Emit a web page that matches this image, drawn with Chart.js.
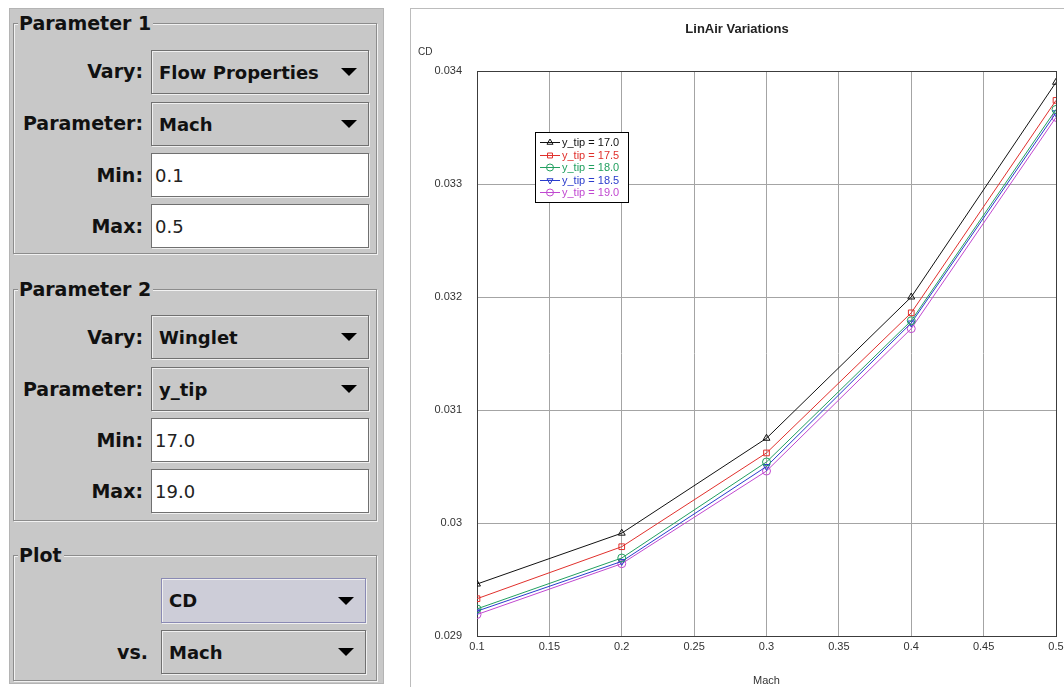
<!DOCTYPE html>
<html>
<head>
<meta charset="utf-8">
<title>LinAir Variations</title>
<script src="https://cdn.jsdelivr.net/npm/chart.js@4.4.0/dist/chart.umd.min.js"></script>
<style>
    body {
        margin: 0;
        width: 1064px;
        height: 687px;
        overflow: hidden;
        position: relative;
        background: #fff;
        font-family: "DejaVu Sans", sans-serif;
        color: #111;
    }
    .panel {
        position: absolute;
        left: 9px; top: 8px; width: 375px; height: 676px;
        background: #c8c8c8;
        border: 1px solid #b4b4b4;
        box-sizing: border-box;
    }
    .group {
        position: absolute;
        border: 1px solid #8c8c8c;
        box-shadow: inset 1px 1px 0 #f2f2f2, 1px 1px 0 #f2f2f2;
        box-sizing: border-box;
    }
    .gtitle {
        position: absolute;
        background: #c8c8c8;
        padding: 0 2px 0 1px;
        font-weight: bold;
        font-size: 19px;
        line-height: 22px;
        white-space: nowrap;
    }
    .lbl {
        position: absolute;
        font-weight: bold;
        font-size: 19px;
        line-height: 22px;
        text-align: right;
        white-space: nowrap;
    }
    .combo {
        position: absolute;
        background: #c8c8c8;
        border: 1px solid #707070;
        box-shadow: inset 1px 1px 0 #f0f0f0, 1px 1px 0 #f0f0f0;
        box-sizing: border-box;
        font-weight: bold;
        font-size: 18px;
        padding-left: 7px;
        display: flex;
        align-items: center;
        white-space: nowrap;
    }
    .combo::after {
        content: "";
        position: absolute;
        right: 11px; top: 50%;
        margin-top: -4px;
        border-left: 8px solid transparent;
        border-right: 8px solid transparent;
        border-top: 8px solid #000;
    }
    .combo.focus {
        background: #cdcdd8;
        border-color: #8a8ab4;
    }
    .field {
        position: absolute;
        background: #fff;
        border: 1px solid #707070;
        box-shadow: 1px 1px 0 #f0f0f0;
        box-sizing: border-box;
        font-size: 18px;
        padding-left: 3px;
        display: flex;
        align-items: center;
        color: #222;
    }
    #chartFrame {
        position: absolute;
        left: 410px; top: 8px; width: 700px; height: 700px;
        border: 1px solid #bcbcbc;
        box-sizing: border-box;
    }
    #chartBox {
        position: absolute;
        left: 411px; top: 9px; width: 653px; height: 684px;
    }
</style>
</head>
<body>

<div class="panel"></div>

<!-- Parameter 1 -->
<div class="group" style="left:13px; top:23px; width:364px; height:231px;"></div>
<div class="gtitle" style="left:18px; top:12px;">Parameter 1</div>
<div class="lbl" style="right:921px; top:60px;">Vary:</div>
<div class="combo" style="left:151px; top:50px; width:218px; height:44px;">Flow Properties</div>
<div class="lbl" style="right:921px; top:112px;">Parameter:</div>
<div class="combo" style="left:151px; top:102px; width:218px; height:44px;">Mach</div>
<div class="lbl" style="right:921px; top:164px;">Min:</div>
<div class="field" style="left:151px; top:153px; width:218px; height:44px;">0.1</div>
<div class="lbl" style="right:921px; top:215px;">Max:</div>
<div class="field" style="left:151px; top:204px; width:218px; height:44px;">0.5</div>

<!-- Parameter 2 -->
<div class="group" style="left:13px; top:289px; width:364px; height:232px;"></div>
<div class="gtitle" style="left:18px; top:278px;">Parameter 2</div>
<div class="lbl" style="right:921px; top:326px;">Vary:</div>
<div class="combo" style="left:151px; top:315px; width:218px; height:44px;">Winglet</div>
<div class="lbl" style="right:921px; top:378px;">Parameter:</div>
<div class="combo" style="left:151px; top:367px; width:218px; height:44px;">y_tip</div>
<div class="lbl" style="right:921px; top:429px;">Min:</div>
<div class="field" style="left:151px; top:418px; width:218px; height:44px;">17.0</div>
<div class="lbl" style="right:921px; top:480px;">Max:</div>
<div class="field" style="left:151px; top:469px; width:218px; height:44px;">19.0</div>

<!-- Plot -->
<div class="group" style="left:13px; top:555px; width:364px; height:126px;"></div>
<div class="gtitle" style="left:18px; top:544px;">Plot</div>
<div class="combo focus" style="left:161px; top:578px; width:205px; height:45px;">CD</div>
<div class="lbl" style="right:916px; top:641px;">vs.</div>
<div class="combo" style="left:161px; top:630px; width:205px; height:44px;">Mach</div>

<div id="chartFrame"></div>
<div id="chartBox"><canvas id="cdChart"></canvas></div>

<script>
// Datos: CD frente a Mach para cada y_tip
const machValues = [0.1, 0.2, 0.3, 0.4, 0.5];
const tipLabels = ["y_tip = 17.0", "y_tip = 17.5", "y_tip = 18.0", "y_tip = 18.5", "y_tip = 19.0"];
const cdTip170 = [0.02946, 0.02991, 0.03075, 0.03200, 0.03390];
const cdTip175 = [0.02933, 0.02979, 0.03062, 0.03186, 0.03374];
const cdTip180 = [0.02924, 0.02969, 0.03054, 0.03179, 0.03366];
const cdTip185 = [0.02922, 0.02966, 0.03050, 0.03177, 0.03363];
const cdTip190 = [0.02919, 0.02964, 0.03046, 0.03172, 0.03359];
const xTickValues = [0.1, 0.15, 0.2, 0.25, 0.3, 0.35, 0.4, 0.45, 0.5];
const yTickValues = [0.029, 0.030, 0.031, 0.032, 0.033, 0.034];

// Estilos de cada serie
const seriesValues = [cdTip170, cdTip175, cdTip180, cdTip185, cdTip190];
const seriesColors = ["#111111", "#e0302c", "#22a060", "#2a3ccc", "#c048d0"];
const seriesMarkers = ["triangle", "rect", "circle", "triangle", "circle"];
const seriesRotation = [0, 0, 0, 180, 0];

const tickFont = { family: "'Liberation Sans', Arial, sans-serif", size: 11 };

// Marco oscuro alrededor del área del gráfico
const plotFrame = {
    id: "plotFrame",
    beforeDatasetsDraw(chart) {
        const { ctx, chartArea: a } = chart;
        ctx.save();
        ctx.strokeStyle = "#3c3c3c";
        ctx.lineWidth = 1;
        ctx.strokeRect(Math.round(a.left) + 0.5, Math.round(a.top) + 0.5,
            Math.round(a.width), Math.round(a.height));
        ctx.restore();
    }
};

// Leyenda dibujada dentro del área del gráfico
const insideLegend = {
    id: "insideLegend",
    afterDraw(chart) {
        const ctx = chart.ctx;
        const a = chart.chartArea;
        const x = Math.round(a.left + 58), y = Math.round(a.top + 61);
        const w = 93, h = 70;
        ctx.save();
        ctx.fillStyle = "#fff";
        ctx.fillRect(x, y, w, h);
        ctx.strokeStyle = "#000";
        ctx.lineWidth = 1;
        ctx.strokeRect(x + 0.5, y + 0.5, w, h);
        ctx.font = "11px 'Liberation Sans', Arial, sans-serif";
        ctx.textBaseline = "middle";
        chart.data.datasets.forEach((ds, i) => {
            const ry = Math.round(y + 10 + i * 12.5) + 0.5;
            ctx.strokeStyle = ds.borderColor;
            ctx.beginPath();
            ctx.moveTo(x + 5, ry);
            ctx.lineTo(x + 25, ry);
            ctx.stroke();
            ctx.fillStyle = "rgba(0,0,0,0)";
            Chart.helpers.drawPoint(ctx, {
                pointStyle: ds.pointStyle,
                rotation: ds.pointRotation,
                radius: 3.5,
                borderWidth: 1
            }, x + 15, ry);
            ctx.fillStyle = ds.borderColor;
            ctx.fillText(ds.label, x + 27, ry);
        });
        ctx.restore();
    }
};

const datasets = seriesValues.map((vals, i) => ({
    label: tipLabels[i],
    data: machValues.map((m, j) => ({ x: m, y: vals[j] })),
    borderColor: seriesColors[i],
    borderWidth: 1,
    pointStyle: seriesMarkers[i],
    pointRotation: seriesRotation[i],
    pointRadius: 4,
    pointBorderWidth: 1,
    pointBackgroundColor: "rgba(0,0,0,0)",
    pointBorderColor: seriesColors[i],
    tension: 0
}));

const myChart = new Chart(document.getElementById("cdChart").getContext("2d"), {
    type: "line",
    data: { datasets: datasets },
    plugins: [plotFrame, insideLegend],
    options: {
        responsive: true,
        maintainAspectRatio: false,
        animation: false,
        layout: { padding: { left: 7, right: 8, top: 0, bottom: 0 } },
        plugins: {
            legend: { display: false },
            tooltip: { enabled: false },
            title: {
                display: true,
                text: "LinAir Variations",
                color: "#222",
                font: { family: "'Liberation Sans', Arial, sans-serif", size: 13, weight: "bold" },
                padding: { top: 13, bottom: 7 }
            },
            subtitle: {
                display: true,
                text: "CD",
                align: "start",
                color: "#333",
                font: { family: "'Liberation Sans', Arial, sans-serif", size: 10 },
                padding: { top: 2, bottom: 12.4 }
            }
        },
        scales: {
            x: {
                type: "linear",
                min: 0.1,
                max: 0.5,
                afterBuildTicks: s => { s.ticks = xTickValues.map(v => ({ value: v })); },
                afterFit: s => { s.paddingLeft = 0; s.paddingRight = 0; s.height = 57; },
                ticks: {
                    color: "#333",
                    font: tickFont,
                    padding: 4,
                    maxRotation: 0,
                    autoSkip: false,
                    callback: v => String(+v.toFixed(2))
                },
                grid: { color: "#a4a4a4", drawTicks: false },
                border: { display: false },
                title: {
                    display: true,
                    text: "Mach",
                    color: "#333",
                    font: { family: "'Liberation Sans', Arial, sans-serif", size: 11 },
                    padding: { top: 0, bottom: 5 }
                }
            },
            y: {
                type: "linear",
                min: 0.029,
                max: 0.034,
                afterBuildTicks: s => { s.ticks = yTickValues.map(v => ({ value: v })); },
                afterFit: s => { s.width = 59; },
                ticks: {
                    color: "#333",
                    font: tickFont,
                    padding: 15,
                    callback: v => String(+v.toFixed(3))
                },
                grid: { color: "#a4a4a4", drawTicks: false },
                border: { display: false }
            }
        }
    }
});
</script>
</body>
</html>
